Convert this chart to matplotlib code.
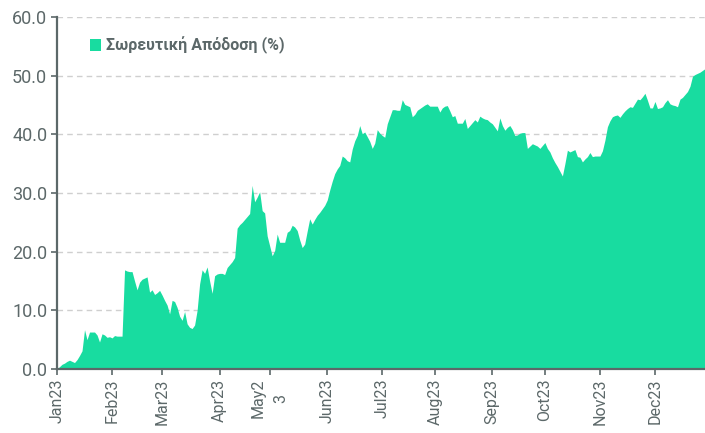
import matplotlib
matplotlib.use("Agg")
import matplotlib.pyplot as plt
import numpy as np
import pandas as pd
from matplotlib.patches import Patch

dates = pd.bdate_range("2023-01-02", "2023-12-29")

returns = [
    0.0, 0.4, 0.8, 1.0, 1.3, 1.5, 1.3, 1.1, 1.6, 2.3,
    3.1, 6.7, 5.0, 6.3, 6.3, 6.3, 5.8, 4.6, 6.0, 5.8,
    5.4, 5.5, 5.3, 5.7, 5.6, 5.6, 5.6, 16.9, 16.7, 16.6,
    16.6, 15.0, 13.5, 14.8, 15.3, 15.5, 15.7, 13.1, 13.5, 12.7,
    13.0, 13.4, 12.6, 11.7, 10.9, 9.4, 11.7, 11.5, 10.5, 9.0,
    8.3, 9.8, 7.7, 7.1, 6.9, 7.5, 10.0, 14.5, 16.9, 16.3,
    17.4, 15.0, 12.9, 15.9, 16.2, 16.3, 16.3, 16.1, 17.3, 17.8,
    18.3, 19.0, 24.0, 24.6, 25.0, 25.5, 26.0, 26.5, 31.3, 28.5,
    29.3, 30.2, 27.0, 26.6, 22.7, 21.0, 19.3, 20.2, 23.0, 21.6,
    21.6, 21.6, 23.3, 23.6, 24.5, 24.2, 23.6, 22.0, 20.7, 21.3,
    23.5, 25.6, 24.7, 25.5, 26.2, 26.7, 27.3, 27.9, 28.8, 30.5,
    32.0, 33.3, 34.1, 34.7, 36.3, 36.0, 35.5, 35.3, 37.5, 38.9,
    39.8, 41.5, 40.1, 40.4, 39.6, 38.8, 37.6, 38.5, 40.8, 40.2,
    39.8, 39.5, 41.8, 43.0, 44.2, 44.2, 44.1, 44.1, 45.9, 45.1,
    44.9, 44.7, 43.0, 43.4, 44.1, 44.4, 44.7, 45.0, 45.2, 44.8,
    44.8, 44.8, 44.8, 43.8, 44.5, 44.8, 44.9, 44.0, 43.0, 43.2,
    41.9, 41.9, 41.9, 42.7, 41.0, 41.5, 42.0, 42.5, 42.1, 43.1,
    42.8, 42.6, 42.5, 42.1, 41.8, 41.2, 40.6, 42.8, 41.5, 40.7,
    41.2, 41.5, 40.8, 39.8, 39.9, 40.2, 40.3, 40.3, 37.6, 38.0,
    38.4, 38.2, 38.0, 37.6, 38.1, 38.6, 37.6, 37.0, 36.0, 35.2,
    34.5, 33.7, 32.9, 35.0, 37.3, 37.0, 37.2, 37.4, 36.2, 36.1,
    35.3, 35.8, 36.2, 36.9, 36.2, 36.3, 36.3, 36.3, 37.2, 39.0,
    41.3, 42.3, 43.0, 43.2, 43.3, 42.9, 43.5, 44.0, 44.4, 44.7,
    44.6, 45.3, 46.0, 45.9, 46.4, 47.0, 45.8, 44.5, 44.5, 45.6,
    44.4, 44.5, 44.7, 45.4, 45.9, 45.2, 45.0, 44.9, 44.7, 46.0,
    46.3, 46.8, 47.3, 48.2, 49.9, 50.2, 50.4, 50.6, 50.9, 51.2,
]

month_labels = ["Jan23", "Feb23", "Mar23", "Apr23", "May2\n3", "Jun23",
                "Jul23", "Aug23", "Sep23", "Oct23", "Nov23", "Dec23"]
y_ticks = [0, 10, 20, 30, 40, 50, 60]
series_name = "Σωρευτική Απόδοση (%)"

fill_color = "#18DCA0"
grey = "#5C6869"

plt.rcParams["font.family"] = ["Roboto", "DejaVu Sans"]

fig = plt.figure(figsize=(7.05, 4.33), dpi=100)
ax = fig.add_axes([57 / 705, 1 - 369 / 433, 1 - 57 / 705, (369 - 17) / 433])

x = np.arange(len(returns))
ax.fill_between(x, 0, returns, color=fill_color, linewidth=0, zorder=2)

ax.set_xlim(0, len(returns) - 1)
ax.set_ylim(0, 60)

month_start = pd.Series(dates.month).drop_duplicates().index.tolist()
ax.set_xticks(month_start)
ax.set_xticklabels(month_labels, rotation=90, color=grey, fontsize=11.5,
                   linespacing=1.6, va="top", ha="center")

ax.set_yticks(y_ticks)
ax.set_yticklabels([f"{v:.1f}" for v in y_ticks], color=grey, fontsize=13)

for v in y_ticks[1:]:
    ax.axhline(v, color="#CFCFCF", linewidth=1.0, linestyle=(0, (4, 3)), zorder=1)

for s in ["top", "right"]:
    ax.spines[s].set_visible(False)
for s in ["left", "bottom"]:
    ax.spines[s].set_color(grey)
    ax.spines[s].set_linewidth(1.6)

ax.tick_params(axis="both", color=grey, width=1.2, length=4)
ax.tick_params(axis="x", pad=3)
ax.tick_params(axis="y", pad=3)

leg = ax.legend(handles=[Patch(facecolor=fill_color, edgecolor="none", label=series_name)],
                loc="upper left", bbox_to_anchor=(0.028, 0.985), frameon=False,
                handlelength=0.72, handleheight=0.75, handletextpad=0.3,
                prop={"size": 11.5, "weight": "bold"})
for t in leg.get_texts():
    t.set_color(grey)

fig.savefig("out.png", dpi=100)
